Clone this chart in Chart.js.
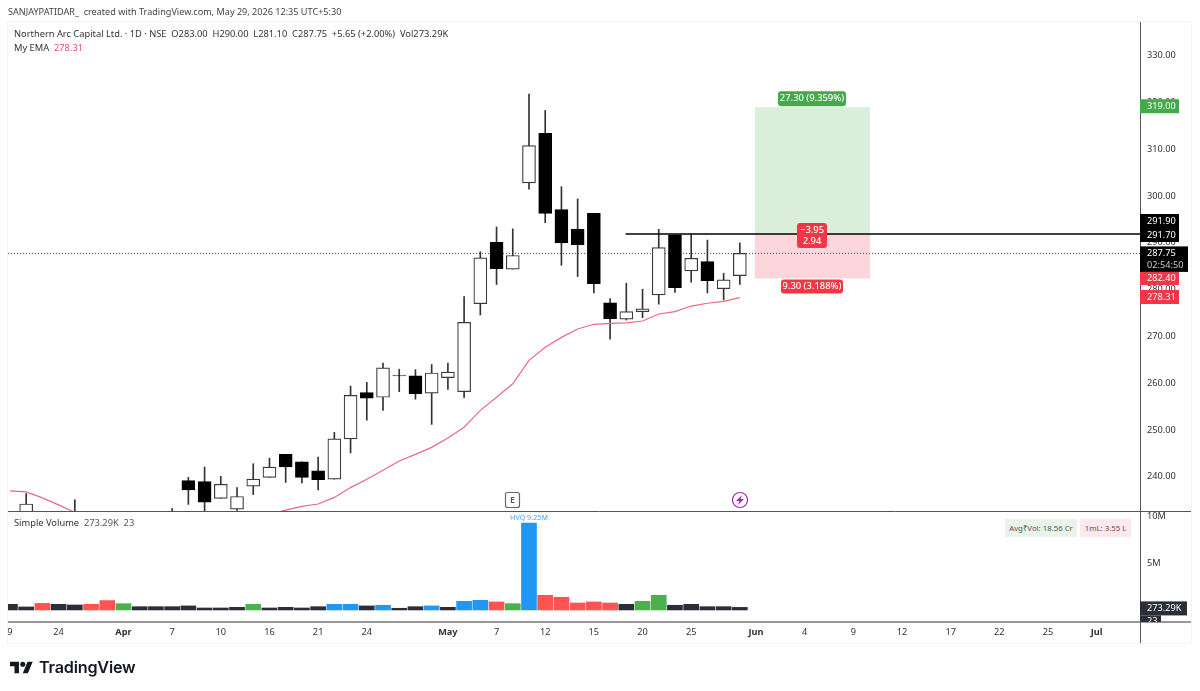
<!DOCTYPE html>
<html>
<head>
<meta charset="utf-8">
<title>Northern Arc Capital Ltd.</title>
<script src="https://cdn.jsdelivr.net/npm/chart.js@4"></script>
<style>
  html, body { margin: 0; padding: 0; background: #fff; }
  #wrap { position: relative; width: 1200px; height: 691px; overflow: hidden; font-family: "Noto Sans", sans-serif; color: #333; }
  #wrap canvas { position: absolute; left: 0; top: 0; }
  .t { position: absolute; white-space: pre; font-size: 9.3px; line-height: 14px; }
  .chip { position: absolute; top: 519px; height: 18px; line-height: 18px; text-align: center; font-size: 7.8px; color: #555; }
  #logo { position: absolute; left: 10px; top: 661px; width: 23px; height: 13px; }
  #brand { position: absolute; left: 39px; top: 655px; font: 600 16.2px/24px Inter, sans-serif; color: #131722; letter-spacing: -0.2px; }
</style>
</head>
<body>
<div id="wrap">
  <canvas id="chart" width="1200" height="691"></canvas>
  <div class="t" style="left:8px;top:5px;color:#444;font-size:9.1px">SANJAYPATIDAR_  created with TradingView.com, May 29, 2026 12:35 UTC+5:30</div>
  <div class="t" style="left:14px;top:27px">Northern Arc Capital Ltd. · 1D · NSE  O283.00  H290.00  L281.10  C287.75  +5.65 (+2.00%)  Vol273.29K</div>
  <div class="t" style="left:14px;top:41px">My EMA  <span style="color:#e8505f">278.31</span></div>
  <div class="t" style="left:14px;top:516px">Simple Volume  <span style="color:#555">273.29K  23</span></div>
  <div class="chip" style="left:1005px;width:72px;background:#e9f3eb">Avg₹Vol: 18.56 Cr</div>
  <div class="chip" style="left:1080px;width:51px;background:#fde8eb">1mL: 3.55 L</div>
  <svg id="logo" viewBox="0 4 36 18"><path fill="#131722" d="M14 22H7V11H0V4h14v18zM28 22h-8l7.5-18h8L28 22z"/><circle fill="#131722" cx="20" cy="8" r="4"/></svg>
  <div id="brand">TradingView</div>
</div>

<script>
// candles, one slot per trading day. null = the candle sits below the visible pane
var opens  = [null,230.5,null,null,231.8,null,null,null,null,null,231.5,239.2,239,235.4,233.1,238,239.9,244.8,243.2,241.3,239.5,248.1,258,257,261.65,261.6,257.9,261.2,258.2,277,290.1,284.4,302.8,313.4,297.1,292.9,296.3,277.2,273.7,275.3,278.9,291.7,284,286,280.2,283];
var highs  = [null,236.4,null,null,235.1,null,null,null,null,null,233.2,239.9,242.1,240.1,237.7,242.8,244,244.8,243.2,244.2,249.5,259.4,260.2,264.3,263,262.9,264,264.3,278.5,288.1,293.4,293,321.8,318.3,302,299.4,296.3,278.1,281.4,280.1,292.9,291.7,291.9,290.6,283.5,290];
var lows   = [null,229,null,null,229.5,null,null,null,null,null,229,234.1,232,235.4,232.8,236.2,239.9,238.8,238.7,237.2,239.5,245.1,252.1,254.2,258.2,256.6,251.2,258.7,256.9,274.6,281.1,284.4,301.5,294.3,285.2,282.8,279.3,269.4,273.5,274,276.9,279.4,281.6,279.3,277.8,281.1];
var closes = [null,234.2,null,null,230.5,null,null,null,null,null,230.5,237.2,234.6,238.4,235.8,239.5,242.1,242.1,239.9,239.4,248.1,257.4,256.8,263.3,261.55,257.8,262.2,262.4,273,286.8,284.5,287.3,310.8,296.3,290,289.6,281.3,273.8,275.3,275.9,289,280.4,286.7,281.9,282.1,287.75];

var emaValues = [237,236.8,235.5,234,232.4,null,null,null,null,null,null,null,null,null,null,null,231.9,232.9,233.7,234.2,235.6,237.7,239.5,241.4,243.4,244.8,246.3,248.3,250.6,254.2,257,259.9,264.9,267.7,269.8,271.6,272.6,272.8,272.9,273.3,274.8,275.3,276.5,277.1,277.5,278.31];

// volume in millions
var volumes = [0.6,0.32,0.7,0.6,0.53,0.6,1.0,0.67,0.35,0.35,0.35,0.43,0.21,0.21,0.28,0.6,0.21,0.28,0.21,0.35,0.6,0.6,0.43,0.5,0.18,0.35,0.43,0.28,0.92,1.03,0.85,0.67,9.25,1.56,1.35,0.74,0.85,0.74,0.6,0.92,1.56,0.5,0.6,0.35,0.35,0.273];
var volumeKinds = 'ddrddrrgdddddddgddddbbdbddbdbbrgbrrrrrdggddddd'.split('');

var xTickSlots  = [0,3,7,10,13,16,19,22,27,30,33,36,39,42,46,49,52,55,58,61,64,67];
var xTickLabels = ['9','24','Apr','7','10','16','21','24','May','7','12','15','20','25','Jun','4','9','12','17','22','25','Jul'];
var monthLabels = ['Apr','May','Jun','Jul'];
var priceTicks  = [240,250,260,270,280,290,300,310,320,330];
var volumeTicks = [5,10];

var lastPrice = 287.75;
var stopLine = 291.9;
var entry = 291.7, target = 319, stop = 282.4;

var volumeColors = { d: '#2a2e39', r: '#ff5252', g: '#4caf50', b: '#2196f3' };

function series(pick) {
  var out = [];
  opens.forEach(function(o, i) {
    if (o !== null) out.push({ x: i, y: pick(i) });
  });
  return out;
}

function tag(ctx, text, x, y, w, h, bg, opts) {
  opts = opts || {};
  ctx.fillStyle = bg;
  ctx.beginPath();
  ctx.roundRect(x, y, w, h, opts.radius || 0);
  ctx.fill();
  ctx.fillStyle = opts.color || '#fff';
  ctx.font = opts.font || '9.2px "Noto Sans"';
  ctx.textAlign = opts.left ? 'left' : 'center';
  ctx.textBaseline = 'middle';
  ctx.fillText(text, opts.left ? x + opts.left : x + w / 2, y + h / 2);
}

// position tool fills and the dotted last price line, under the candles
var underlay = {
  id: 'underlay',
  beforeDatasetsDraw: function(chart) {
    var ctx = chart.ctx, xs = chart.scales.x, ys = chart.scales.y;
    var x1 = xs.getPixelForValue(45.93), x2 = xs.getPixelForValue(53.02);
    var yT = ys.getPixelForValue(target), yE = ys.getPixelForValue(entry), yS = ys.getPixelForValue(stop);
    ctx.save();
    ctx.fillStyle = '#daeeda';
    ctx.fillRect(x1, yT, x2 - x1, yE - yT);
    ctx.fillStyle = '#fcd6da';
    ctx.fillRect(x1, yE, x2 - x1, yS - yE);

    var yL = ys.getPixelForValue(lastPrice);
    ctx.strokeStyle = '#444';
    ctx.lineWidth = 1;
    ctx.setLineDash([1, 2]);
    ctx.beginPath();
    ctx.moveTo(xs.left, yL);
    ctx.lineTo(xs.right, yL);
    ctx.stroke();
    ctx.restore();
  }
};

// pane lines, drawn line, badges, icons and the price tags on the axis
var overlay = {
  id: 'overlay',
  afterDraw: function(chart) {
    var ctx = chart.ctx, xs = chart.scales.x, ys = chart.scales.y, yv = chart.scales.yVol;
    var left = xs.left, axisX = xs.right, edge = 1191, paneY = ys.bottom, bottom = yv.bottom;
    ctx.save();

    // frame
    ctx.strokeStyle = '#f4f4f4';
    ctx.strokeRect(left - 0.5, ys.top - 0.5, edge - left + 1, xs.bottom - ys.top + 1);

    ctx.strokeStyle = '#555';
    ctx.lineWidth = 1;
    ctx.beginPath();
    ctx.moveTo(left, paneY + 0.5); ctx.lineTo(edge, paneY + 0.5);
    ctx.moveTo(axisX + 0.5, ys.top); ctx.lineTo(axisX + 0.5, xs.bottom);
    ctx.stroke();
    ctx.strokeStyle = '#777';
    ctx.lineWidth = 1.5;
    ctx.beginPath();
    ctx.moveTo(left, bottom); ctx.lineTo(edge, bottom);
    ctx.stroke();

    // black horizontal
    ctx.strokeStyle = '#000';
    ctx.lineWidth = 1.6;
    ctx.beginPath();
    ctx.moveTo(xs.getPixelForValue(37.96), ys.getPixelForValue(stopLine));
    ctx.lineTo(axisX, ys.getPixelForValue(stopLine));
    ctx.stroke();

    // position tool badges
    var boldFont = '500 9.4px "Noto Sans"';
    tag(ctx, '27.30 (9.359%)', 778, ys.getPixelForValue(target) - 16, 68, 15, '#43a94b', { radius: 3, font: boldFont });
    tag(ctx, '9.30 (3.188%)', 781, ys.getPixelForValue(stop) + 1, 62, 14, '#f23645', { radius: 3, font: boldFont });
    ctx.fillStyle = '#f23645';
    ctx.beginPath();
    ctx.roundRect(797, 223, 30, 25, 3);
    ctx.fill();
    ctx.fillStyle = '#fff';
    ctx.font = boldFont;
    ctx.textAlign = 'center';
    ctx.textBaseline = 'middle';
    ctx.fillText('−3.95', 812, 230);
    ctx.fillText('2.94', 812, 241);

    // earnings and dividend style markers
    ctx.strokeStyle = '#666';
    ctx.lineWidth = 1.2;
    ctx.beginPath();
    ctx.roundRect(505.5, 492.5, 14, 15, 2);
    ctx.stroke();
    ctx.fillStyle = '#555';
    ctx.font = '600 9px "Noto Sans"';
    ctx.fillText('E', 512.5, 500.5);
    ctx.strokeStyle = '#9c27b0';
    ctx.beginPath();
    ctx.arc(740, 500, 7.5, 0, Math.PI * 2);
    ctx.stroke();
    ctx.fillStyle = '#9c27b0';
    ctx.beginPath();
    ctx.moveTo(742, 495); ctx.lineTo(736, 501); ctx.lineTo(739.5, 501); ctx.lineTo(738, 505);
    ctx.lineTo(744, 499); ctx.lineTo(740.5, 499);
    ctx.closePath();
    ctx.fill();

    // highest volume note over its bar
    var peak = volumes.indexOf(Math.max.apply(null, volumes));
    ctx.fillStyle = '#42a5f5';
    ctx.font = '7.2px "Noto Sans"';
    ctx.fillText('HVQ 9.25M', xs.getPixelForValue(peak), yv.getPixelForValue(volumes[peak]) - 5);

    // axis tags
    var axisFont = '9.2px "Noto Sans"';
    function axisTag(text, value, shift, bg, w, h) {
      tag(ctx, text, axisX, ys.getPixelForValue(value) + shift - h / 2, w, h, bg, { left: 7, font: axisFont });
    }
    axisTag('319.00', target, -1, '#43a94b', 39, 14);
    axisTag('291.90', 291.9, -13, '#000', 39, 14);
    axisTag('291.70', 291.7, 0, '#000', 39, 14);
    axisTag('282.40', stop, 0, '#f23645', 39, 13);
    axisTag('278.31', 278.31, -0.5, '#f23645', 39, 14);
    var yLast = ys.getPixelForValue(lastPrice);
    ctx.fillStyle = '#000';
    ctx.fillRect(axisX, yLast - 7, 48, 25.5);
    ctx.textAlign = 'left';
    ctx.font = axisFont;
    ctx.fillStyle = '#fff';
    ctx.fillText('287.75', axisX + 7, yLast);
    ctx.fillStyle = '#ccc';
    ctx.fillText('02:54:50', axisX + 7, yLast + 11.5);

    var yVolLast = yv.getPixelForValue(volumes[volumes.length - 1]);
    ctx.fillStyle = '#2a2e39';
    ctx.fillRect(axisX, yVolLast - 6, 47, 14);
    ctx.fillRect(axisX, yVolLast + 8, 21, bottom - yVolLast - 8);
    ctx.fillStyle = '#fff';
    ctx.fillText('273.29K', axisX + 7, yVolLast + 1);
    ctx.save();
    ctx.beginPath();
    ctx.rect(axisX, yVolLast + 8, 21, bottom - yVolLast - 8);
    ctx.clip();
    ctx.fillText('23', axisX + 7, yVolLast + 14);
    ctx.restore();

    ctx.restore();
  }
};

document.addEventListener('DOMContentLoaded', function() {
  new Chart('chart', {
    type: 'bar',
    plugins: [underlay, overlay],
    data: {
      datasets: [
        {
          type: 'line',
          data: emaValues.map(function(v, i) { return { x: i, y: v }; }),
          yAxisID: 'y',
          borderColor: '#ea6a80',
          borderWidth: 1.2,
          pointRadius: 0,
          tension: 0,
          spanGaps: false,
          order: 0
        },
        {
          data: series(function(i) { return [opens[i], closes[i]]; }),
          yAxisID: 'y',
          grouped: false,
          barThickness: 13,
          borderWidth: 1.2,
          borderSkipped: false,
          backgroundColor: function(c) { var r = c.raw; return r && r.y[1] >= r.y[0] ? '#fff' : '#000'; },
          borderColor: function(c) { var r = c.raw; return r && r.y[1] >= r.y[0] ? '#3a3a3a' : '#000'; },
          order: 1
        },
        {
          data: series(function(i) { return [lows[i], highs[i]]; }),
          yAxisID: 'y',
          grouped: false,
          barThickness: 1,
          backgroundColor: '#333',
          order: 2
        },
        {
          data: volumes.map(function(v, i) { return { x: i, y: v }; }),
          yAxisID: 'yVol',
          grouped: false,
          barThickness: 15,
          backgroundColor: volumeKinds.map(function(k) { return volumeColors[k]; }),
          order: 3
        }
      ]
    },
    options: {
      responsive: false,
      animation: false,
      layout: { padding: { left: 8, top: 22, right: 9, bottom: 48 } },
      plugins: { legend: { display: false }, tooltip: { enabled: false } },
      scales: {
        x: {
          type: 'linear',
          offset: false,
          min: -0.12,
          max: 69.67,
          grid: { display: false, drawTicks: false },
          border: { display: false },
          afterBuildTicks: function(scale) {
            scale.ticks = xTickSlots.map(function(v) { return { value: v }; });
          },
          afterFit: function(scale) { scale.height = 21; },
          ticks: {
            autoSkip: false,
            maxRotation: 0,
            padding: 5,
            color: '#333',
            font: function(c) {
              var isMonth = c.tick && monthLabels.indexOf(c.tick.label) >= 0;
              return { family: '"Noto Sans"', size: 9.2, weight: isMonth ? '700' : '400' };
            },
            callback: function(v) { return xTickLabels[xTickSlots.indexOf(v)]; }
          }
        },
        y: {
          position: 'right',
          stack: 'panes',
          stackWeight: 489,
          min: 232.7,
          max: 337.2,
          grid: { display: false, drawTicks: false },
          border: { display: false },
          afterBuildTicks: function(scale) {
            scale.ticks = priceTicks.map(function(v) { return { value: v }; });
          },
          afterFit: function(scale) { scale.width = 51; },
          ticks: {
            padding: 7,
            color: '#333',
            font: { family: '"Noto Sans"', size: 9.2 },
            callback: function(v) { return v.toFixed(2); }
          }
        },
        yVol: {
          position: 'right',
          stack: 'panes',
          stackWeight: 111,
          min: -1.28,
          max: 10.53,
          grid: { display: false, drawTicks: false },
          border: { display: false },
          afterBuildTicks: function(scale) {
            scale.ticks = volumeTicks.map(function(v) { return { value: v }; });
          },
          afterFit: function(scale) { scale.width = 51; },
          ticks: {
            padding: 7,
            color: '#333',
            font: { family: '"Noto Sans"', size: 9.2 },
            callback: function(v) { return v + 'M'; }
          }
        }
      }
    }
  });
});
</script>
</body>
</html>
